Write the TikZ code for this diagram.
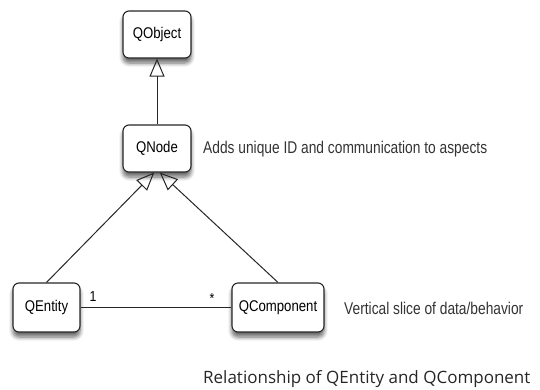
\documentclass[tikz,border=0pt]{standalone}
\usepackage{fontspec}
\setmainfont{Liberation Sans}
\newfontfamily\umlfont[FakeStretch=0.85]{Liberation Sans}
\newfontfamily\notefont[FakeStretch=0.81]{Liberation Sans}
\newfontfamily\capfont{Open Sans}
\usetikzlibrary{arrows.meta,shadows.blur,calc}

\tikzset{
  umlclass/.style={draw=black!85, line width=1.1pt, rounded corners=6pt, fill=white,
    minimum height=47pt, inner sep=0pt, font=\umlfont\fontsize{15.5}{18}\selectfont,
    blur shadow={shadow xshift=0pt, shadow yshift=-5pt, shadow blur steps=6,
      shadow blur radius=4pt, shadow opacity=60}},
  note/.style={anchor=west, inner sep=0pt, text=black!80, font=\notefont\fontsize{17}{20}\selectfont},
  mult/.style={inner sep=0pt, font=\umlfont\fontsize{14.5}{16}\selectfont},
  link/.style={draw=black!85, line width=1pt},
  generalize/.style={link, -{Triangle[open, length=18pt, width=15pt, line width=1pt]}},
}

\begin{document}
\begin{tikzpicture}[x=1pt, y=-1pt]
  \useasboundingbox (0,0) rectangle (540,389);

  % class boxes
  \node[umlclass, minimum width=68pt] (QObject) at (157,34.5) {QObject};
  \node[umlclass, minimum width=68pt] (QNode) at (157,148.5) {QNode};
  \node[umlclass, minimum width=67pt, minimum height=49pt] (QEntity) at (46.5,307.5) {QEntity};
  \node[umlclass, minimum width=92pt, minimum height=49pt] (QComponent) at (278,307.5) {QComponent};

  % inheritance
  \draw[generalize] (QNode.north) -- (QObject.south);
  \coordinate (tipL) at ($(QNode.south west)!0.46!(QNode.south east)$);
  \coordinate (tipR) at ($(QNode.south west)!0.54!(QNode.south east)$);
  \draw[generalize] (QEntity.north) -- (tipL);
  \draw[generalize] (QComponent.north) -- (tipR);

  % association
  \draw[link] (QEntity.east) -- (QComponent.west);
  \node[mult] (one) at (93,297) {1};
  \node[mult] (many) at (212,299) {*};

  % annotations
  \node[note] (nodeNote) at (203,149.5) {Adds unique ID and communication to aspects};
  \node[note] (compNote) at (344,308) {Vertical slice of data/behavior};
  \node[inner sep=0pt, anchor=west, text=black!85, font=\capfont\fontsize{17}{20}\selectfont] (caption) at (203,379) {Relationship of QEntity and QComponent};
\end{tikzpicture}
\end{document}
